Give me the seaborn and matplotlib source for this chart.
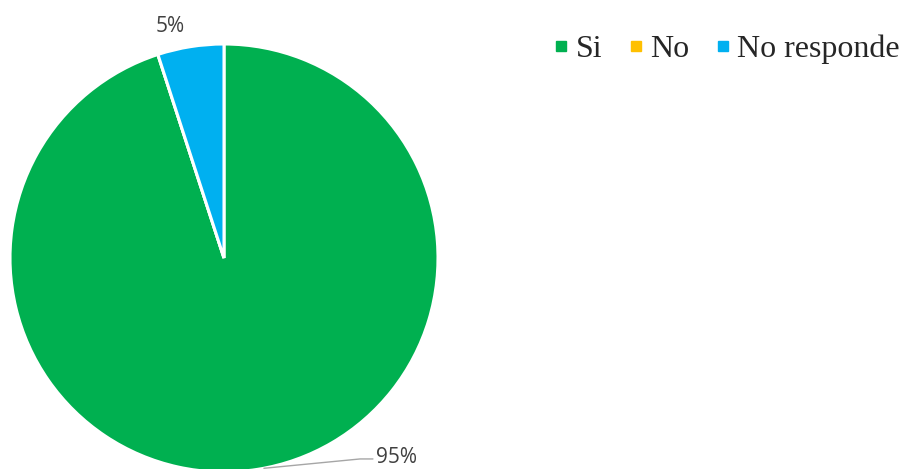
import numpy as np
import matplotlib
matplotlib.use("Agg")
import matplotlib.pyplot as plt
import seaborn as sns
from matplotlib.lines import Line2D

# -------------------------- data --------------------------
categories = ["Si", "No", "No responde"]
values = [95, 0, 5]
pct_labels = ["95%", "", "5%"]
colors = ["#00B050", "#FFC000", "#00B0F0"]

sns.set_theme(style="white")
palette = sns.color_palette(colors)

fig = plt.figure(figsize=(9.03, 4.69), dpi=100)
# pie box: centre (224, 258) px, radius 214 px
ax = fig.add_axes([10 / 903, -3 / 469, 428 / 903, 428 / 469])

wedges, _ = ax.pie(values, colors=palette, startangle=90, counterclock=False,
                   wedgeprops=dict(edgecolor="white", linewidth=2.2),
                   radius=1.0)
ax.set_xlim(-1, 1)
ax.set_ylim(-1, 1)
ax.set_aspect("equal")
ax.axis("off")

label_font = dict(family=["Open Sans", "DejaVu Sans"], fontsize=15, color="#404040")

# 5% label above its slice
w = wedges[2]
mid = np.deg2rad((w.theta1 + w.theta2) / 2 + 4)
ax.text(1.11 * np.cos(mid), 1.11 * np.sin(mid), pct_labels[2],
        ha="center", va="center", clip_on=False, **label_font)

# 95% label with a leader line
w = wedges[0]
mid = np.deg2rad((w.theta1 + w.theta2) / 2)
x0, y0 = np.cos(mid), np.sin(mid)
ax.plot([x0 + 0.03, 0.636, 0.696], [y0 + 0.005, -0.939, -0.939],
        color="#A6A6A6", lw=1.0, clip_on=False)
ax.text(0.71, -0.93, pct_labels[0], ha="left", va="center", clip_on=False, **label_font)

handles = [Line2D([0], [0], marker="s", linestyle="none", markersize=7,
                  markerfacecolor=c, markeredgecolor=c) for c in palette]
fig.legend(handles, categories, loc="center left", bbox_to_anchor=(542 / 903, 1 - 49 / 469),
           ncol=3, frameon=False, handlelength=0.4, handletextpad=0.25,
           columnspacing=0.85, borderaxespad=0,
           prop=dict(family=["Liberation Serif", "DejaVu Serif"], size=23))

fig.savefig("out.png", dpi=100)
